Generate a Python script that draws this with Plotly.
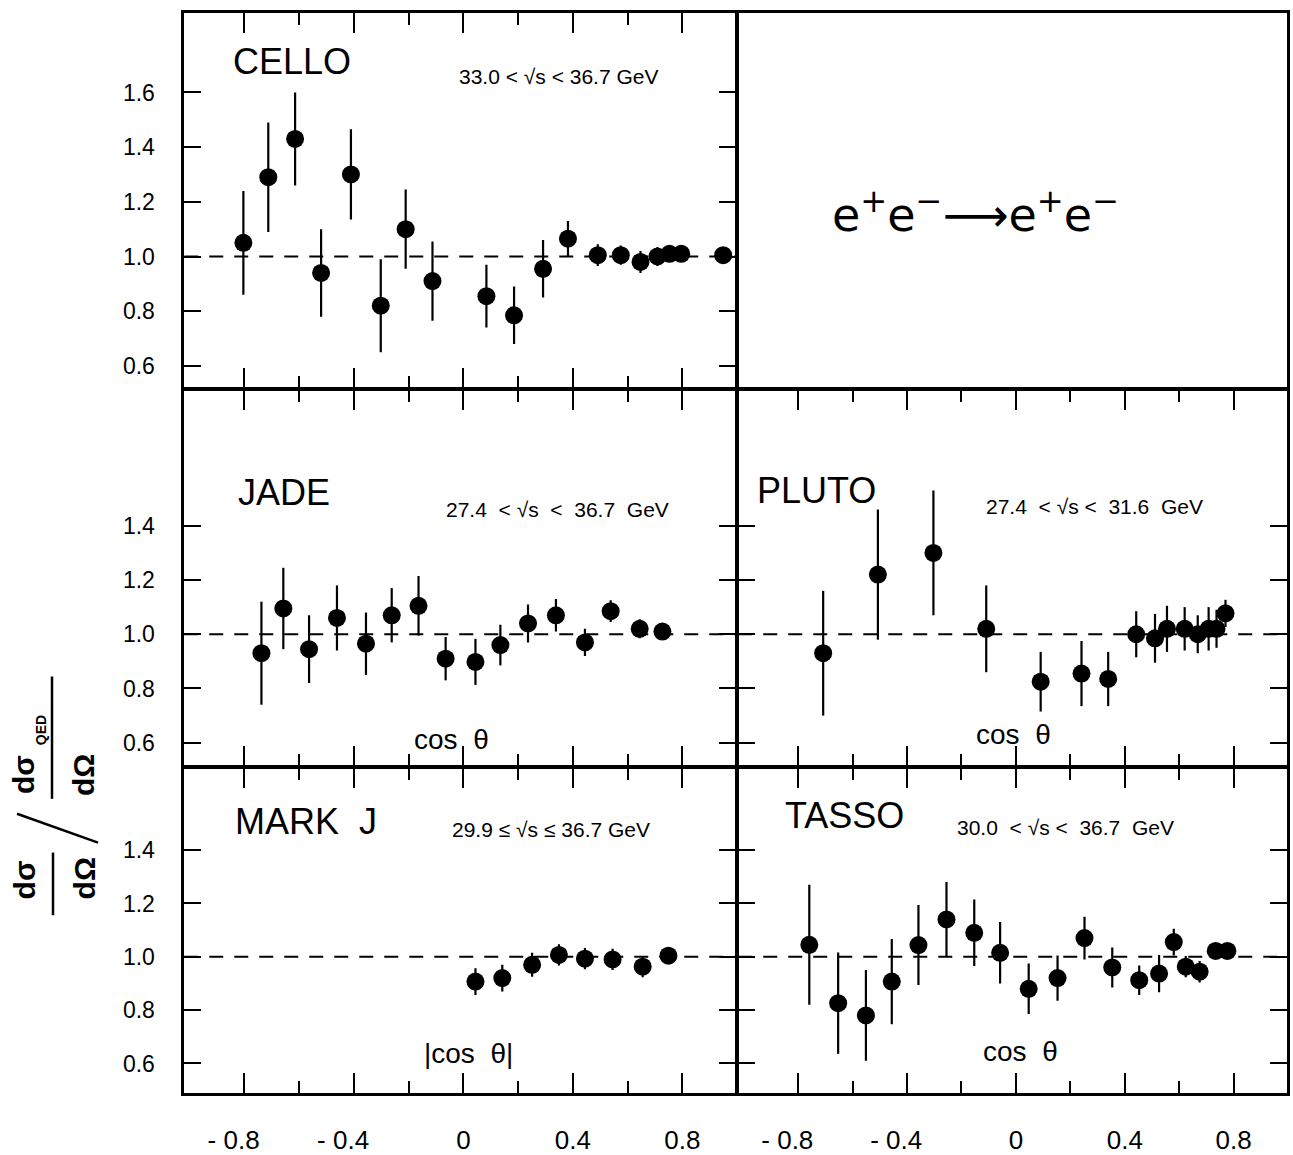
import plotly.graph_objects as go

W, H = 1293, 1155

# ---------------- data ----------------
cello_x = [-0.804, -0.713, -0.615, -0.520, -0.411, -0.302, -0.211, -0.113, 0.084, 0.185,
           0.291, 0.382, 0.491, 0.575, 0.647, 0.709, 0.753, 0.796, 0.949]
cello_y = [1.05, 1.29, 1.43, 0.94, 1.30, 0.82, 1.10, 0.91, 0.855, 0.785,
           0.955, 1.065, 1.005, 1.005, 0.98, 1.0, 1.01, 1.01, 1.005]
cello_e = [0.19, 0.20, 0.17, 0.16, 0.165, 0.17, 0.145, 0.145, 0.115, 0.105,
           0.105, 0.065, 0.04, 0.035, 0.04, 0.035, 0.03, 0.03, 0.02]

jade_x = [-0.738, -0.658, -0.564, -0.462, -0.356, -0.262, -0.164, -0.065, 0.044, 0.135,
          0.236, 0.338, 0.444, 0.538, 0.644, 0.727]
jade_y = [0.93, 1.095, 0.945, 1.06, 0.965, 1.07, 1.105, 0.91, 0.898, 0.96,
          1.04, 1.07, 0.97, 1.085, 1.02, 1.01]
jade_e = [0.19, 0.15, 0.125, 0.12, 0.115, 0.10, 0.11, 0.08, 0.085, 0.075,
          0.07, 0.06, 0.05, 0.04, 0.035, 0.03]

pluto_x = [-0.708, -0.507, -0.303, -0.109, 0.091, 0.241, 0.339, 0.442, 0.511, 0.555,
           0.620, 0.668, 0.708, 0.737, 0.770]
pluto_y = [0.93, 1.22, 1.30, 1.02, 0.825, 0.855, 0.835, 1.0, 0.985, 1.02,
           1.02, 1.0, 1.02, 1.02, 1.077]
pluto_e = [0.23, 0.24, 0.23, 0.16, 0.11, 0.12, 0.10, 0.085, 0.09, 0.085,
           0.08, 0.07, 0.08, 0.07, 0.05]

markj_x = [0.044, 0.142, 0.251, 0.349, 0.444, 0.545, 0.655, 0.749]
markj_y = [0.907, 0.92, 0.97, 1.007, 0.993, 0.99, 0.963, 1.004]
markj_e = [0.05, 0.05, 0.045, 0.04, 0.04, 0.04, 0.04, 0.03]

tasso_x = [-0.759, -0.653, -0.551, -0.456, -0.358, -0.255, -0.153, -0.058, 0.047, 0.153,
           0.252, 0.354, 0.453, 0.526, 0.580, 0.624, 0.675, 0.734, 0.777]
tasso_y = [1.045, 0.826, 0.78, 0.907, 1.044, 1.14, 1.09, 1.015, 0.88, 0.92,
           1.07, 0.96, 0.912, 0.937, 1.055, 0.963, 0.944, 1.022, 1.022]
tasso_e = [0.225, 0.19, 0.17, 0.16, 0.15, 0.14, 0.125, 0.115, 0.095, 0.085,
           0.08, 0.075, 0.055, 0.07, 0.05, 0.04, 0.04, 0.03, 0.03]

NB = "\u00a0"
x_major = [-0.8, -0.4, 0, 0.4, 0.8]
x_minor = [-0.6, -0.2, 0.2, 0.6]
x_ticktext = ["- 0.8" + NB * 3, "- 0.4" + NB * 3, "0", "0.4", "0.8"]
y_ticks_top = [0.6, 0.8, 1.0, 1.2, 1.4, 1.6]
y_ticks_low = [0.6, 0.8, 1.0, 1.2, 1.4]

# ---------------- layout helpers ----------------
def px(x):
    return x / W

def py(y):
    return 1 - y / H

FONT = "Liberation Sans"
LW = 2.5
hw = LW / 2.0
xl = [px(183 + hw), px(737 - hw)]
xr = [px(737 + hw), px(1288 - hw)]
yt = [py(391 - hw), py(12 + hw)]
ym = [py(771 - hw), py(391 + hw)]
yb = [py(1100 - hw), py(771 + hw)]
XR = [-1.02, 0.995]

fig = go.Figure()

panels = [
    (1, xl, yt, [0.52, 1.89], y_ticks_top, False, True, (cello_x, cello_y, cello_e)),
    (2, xr, yt, [0.52, 1.89], None, False, False, None),
    (3, xl, ym, [0.515, 1.90], y_ticks_low, False, True, (jade_x, jade_y, jade_e)),
    (4, xr, ym, [0.515, 1.90], y_ticks_low, False, False, (pluto_x, pluto_y, pluto_e)),
    (5, xl, yb, [0.489, 1.707], y_ticks_low, True, True, (markj_x, markj_y, markj_e)),
    (6, xr, yb, [0.489, 1.707], y_ticks_low, True, False, (tasso_x, tasso_y, tasso_e)),
]

layout = dict(
    width=W, height=H,
    margin=dict(l=0, r=0, t=0, b=0),
    paper_bgcolor="white", plot_bgcolor="white",
    showlegend=False,
    font=dict(family=FONT, color="black"),
)
shapes = []

for idx, xd, yd, yr, yticks, showx, showy, data in panels:
    s = "" if idx == 1 else str(idx)
    blank = data is None
    xa = dict(
        domain=xd, range=XR, anchor="y" + s,
        showgrid=False, zeroline=False,
        showline=True, linewidth=LW, linecolor="black", mirror=True if blank else "ticks",
        ticks="" if blank else "inside",
        tickvals=x_major, ticktext=x_ticktext, ticklen=20, tickwidth=2, tickcolor="black",
        showticklabels=showx, tickfont=dict(size=26, family=FONT),
        ticklabelstandoff=22,
    )
    if not blank:
        xa["minor"] = dict(tickvals=x_minor, ticklen=12, tickwidth=2, ticks="inside",
                           tickcolor="black", showgrid=False)
    ya = dict(
        domain=yd, range=yr, anchor="x" + s,
        showgrid=False, zeroline=False,
        showline=True, linewidth=LW, linecolor="black", mirror=True if blank else "ticks",
        ticks="" if blank else "inside",
        tickvals=yticks if yticks else [], ticklen=17, tickwidth=2, tickcolor="black",
        showticklabels=showy, tickfont=dict(size=23, family=FONT),
        tickformat=".1f", ticklabelstandoff=22,
    )
    layout["xaxis" + s] = xa
    layout["yaxis" + s] = ya
    if blank:
        fig.add_trace(go.Scatter(x=[], y=[], mode="markers", xaxis="x" + s, yaxis="y" + s,
                                 hoverinfo="skip"))
    else:
        xs, ys, es = data
        fig.add_trace(go.Scatter(
            x=xs, y=ys, mode="markers", xaxis="x" + s, yaxis="y" + s,
            marker=dict(size=18, color="black"),
            error_y=dict(type="data", array=es, symmetric=True, width=0,
                         thickness=2.2, color="black"),
        ))
        shapes.append(dict(type="line", xref="x" + s + " domain", yref="y" + s,
                           x0=0, x1=1, y0=1.0, y1=1.0,
                           line=dict(color="black", width=2, dash="14px,11px"),
                           layer="below"))

annotations = []

def label(text, x, y, size, xanchor="left", family=FONT, angle=0, bold=False):
    if bold:
        text = "<b>" + text + "</b>"
    annotations.append(dict(text=text, x=px(x), y=py(y), xref="paper", yref="paper",
                            xanchor=xanchor, yanchor="middle", showarrow=False,
                            textangle=angle, font=dict(size=size, family=family, color="black")))

# experiment names
label("CELLO", 231, 62, 36)
label("JADE", 236, 495, 36)
label("PLUTO", 755, 493, 36)
label("MARK" + NB + " J", 233, 826, 36)
label("TASSO", 783, 820, 36)
# energy ranges
label("33.0" + NB + "<" + NB + "√s" + NB + "<" + NB + "36.7" + NB + "GeV", 457, 77, 21)
label("27.4" + NB + NB + "<" + NB + "√s" + NB + NB + "<" + NB + NB + "36.7" + NB + NB + "GeV", 444, 512, 21)
label("27.4" + NB + NB + "<" + NB + "√s" + NB + "<" + NB + NB + "31.6" + NB + NB + "GeV", 984, 509, 21)
label("29.9" + NB + "≤" + NB + "√s" + NB + "≤" + NB + "36.7" + NB + "GeV", 450, 834, 21)
label("30.0" + NB + NB + "<" + NB + "√s" + NB + "<" + NB + NB + "36.7" + NB + NB + "GeV", 955, 832, 21)
# variable labels
label("cos" + NB + NB + "θ", 451, 743, 28, xanchor="center")
label("cos" + NB + NB + "θ", 1013, 738, 28, xanchor="center")
label("|cos" + NB + NB + "θ|", 468, 1059, 28, xanchor="center")
label("cos" + NB + NB + "θ", 1020, 1057, 28, xanchor="center")
# reaction
label("e<sup>+</sup>e<sup>−</sup>⟶e<sup>+</sup>e<sup>−</sup>", 975, 213, 46,
      xanchor="center", family="DejaVu Sans")

# y-axis title built as two stacked fractions (rotated)
label("dσ", 24, 885, 30, xanchor="center", angle=-90, bold=True)
label("dΩ", 84, 883, 30, xanchor="center", angle=-90, bold=True)
label("dσ", 24, 779, 30, xanchor="center", angle=-90, bold=True)
label("QED", 41, 734, 14, xanchor="center", angle=-90, bold=True)
label("dΩ", 84, 779, 30, xanchor="center", angle=-90, bold=True)

for x0, y0, x1, y1 in [(53, 857, 53, 920), (52, 680, 52, 803), (17, 818, 98, 847)]:
    shapes.append(dict(type="line", xref="paper", yref="paper",
                       x0=px(x0), y0=py(y0), x1=px(x1), y1=py(y1),
                       line=dict(color="black", width=2.5)))

layout["annotations"] = annotations
layout["shapes"] = shapes
fig.update_layout(**layout)
fig.write_html("out.html")
